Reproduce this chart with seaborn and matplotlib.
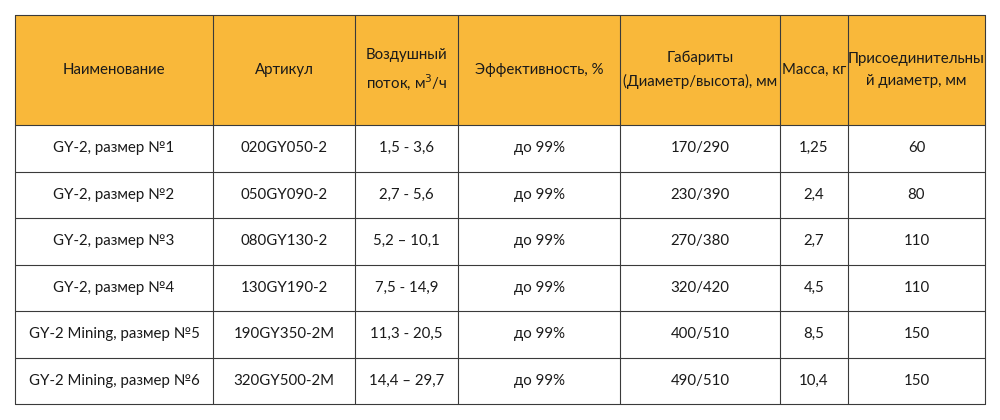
import matplotlib
matplotlib.use("Agg")
import matplotlib.pyplot as plt
import seaborn as sns
from matplotlib.patches import Rectangle

sns.set_theme(style="white", rc={"font.family": "Lato"})

headers = ["Наименование", "Артикул", "Воздушный\nпоток, м$^3$/ч", "Эффективность, %",
           "Габариты\n(Диаметр/высота), мм", "Масса, кг", "Присоединительны\nй диаметр, мм"]
names = ["GY-2, размер №1", "GY-2, размер №2", "GY-2, размер №3", "GY-2, размер №4",
         "GY-2 Mining, размер №5", "GY-2 Mining, размер №6"]
articles = ["020GY050-2", "050GY090-2", "080GY130-2", "130GY190-2", "190GY350-2M", "320GY500-2M"]
airflow = ["1,5 - 3,6", "2,7 - 5,6", "5,2 – 10,1", "7,5 - 14,9", "11,3 - 20,5", "14,4 – 29,7"]
efficiency = ["до 99%"] * 6
dims = ["170/290", "230/390", "270/380", "320/420", "400/510", "490/510"]
mass = ["1,25", "2,4", "2,7", "4,5", "8,5", "10,4"]
conn = ["60", "80", "110", "110", "150", "150"]

col_edges = [15, 213, 355, 458, 620, 780, 848, 985]
header_top, header_bottom, row_h = 15, 125, 46.5

fig = plt.figure(figsize=(10, 4.2), dpi=100)
ax = fig.add_axes([0, 0, 1, 1])
ax.set_xlim(0, 1000)
ax.set_ylim(420, 0)
ax.axis("off")

line = "#3a3a3a"
ax.add_patch(Rectangle((col_edges[0], header_top), col_edges[-1] - col_edges[0],
                       header_bottom - header_top, facecolor="#F9B83A", edgecolor="none"))

rows = list(zip(names, articles, airflow, efficiency, dims, mass, conn))
bottom = header_bottom + row_h * len(rows)

for i, h in enumerate(headers):
    cx = (col_edges[i] + col_edges[i + 1]) / 2
    ax.text(cx, (header_top + header_bottom) / 2, h, ha="center", va="center",
            fontsize=10.8, color="#1a1a1a", linespacing=1.7)

for r, row in enumerate(rows):
    cy = header_bottom + row_h * (r + 0.5)
    for i, val in enumerate(row):
        cx = (col_edges[i] + col_edges[i + 1]) / 2
        ax.text(cx, cy, val, ha="center", va="center", fontsize=10.8, color="#1a1a1a")

# grid lines
for x in col_edges:
    ax.plot([x, x], [header_top, bottom], color=line, lw=0.8)
ax.plot([col_edges[0], col_edges[-1]], [header_top, header_top], color=line, lw=0.8)
for r in range(len(rows) + 1):
    y = header_bottom + row_h * r
    ax.plot([col_edges[0], col_edges[-1]], [y, y], color=line, lw=0.8)

fig.savefig("out.png", dpi=100, facecolor="white")
